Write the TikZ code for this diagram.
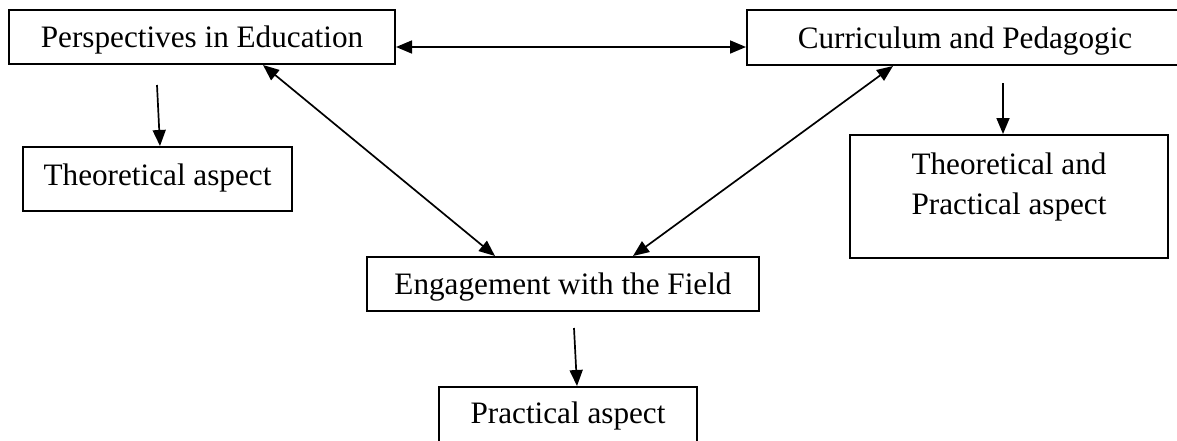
\documentclass[tikz,border=0pt]{standalone}
\usepackage{fontspec}
\setmainfont{Liberation Serif}
\usetikzlibrary{arrows.meta,calc}
\begin{document}
\begin{tikzpicture}[x=1pt,y=1pt,
  txt/.style={font=\fontsize{31.2pt}{40pt}\selectfont},
  box/.style={draw=black, line width=2pt, inner sep=0pt, txt, text height=21pt, text depth=0pt},
  conn/.style={line width=1.7pt, -{Triangle[length=16pt,width=13pt]}},
  biconn/.style={line width=1.7pt, {Triangle[length=16pt,width=13pt]}-{Triangle[length=16pt,width=13pt]}}]
\clip (0,0) rectangle (1177,-440);
\fill[white] (0,0) rectangle (1177,-440);
% nodes
\node[box, minimum width=386pt, minimum height=54pt] (persp) at (202,-37) {Perspectives in Education};
\node[box, minimum width=436pt, minimum height=55pt] (curr) at (965,-37.5) {Curriculum and Pedagogic};
\node[box, minimum width=269pt, minimum height=64pt, text depth=9pt] (theo) at (157.5,-179) {Theoretical aspect};
\node[box, minimum width=318pt, minimum height=123pt] (tp) at (1009,-196.5) {};
\node[align=center, inner sep=0pt, txt] (tptext) at (1009,-187) {Theoretical and\\Practical aspect};
\node[box, minimum width=392pt, minimum height=54pt] (eng) at (563,-284) {Engagement with the Field};
\node[box, minimum width=258pt, minimum height=62pt, text depth=10pt] (prac) at (568,-418) {Practical aspect};
% free ends
\coordinate (a1) at (157,-85);
\coordinate (a2) at (1003,-83);
\coordinate (a3) at (574,-328);
% connectors
\draw[biconn] ([yshift=-10pt]persp.east) -- ([yshift=-9.5pt]curr.west);
\draw[biconn] ([xshift=61pt]persp.south) -- ([xshift=-68pt]eng.north);
\draw[biconn] ([xshift=-72pt]curr.south) -- ([xshift=70pt]eng.north);
\draw[conn] (a1) -- ([xshift=2.5pt]theo.north);
\draw[conn] (a2) -- ([xshift=-6pt]tp.north);
\draw[conn] (a3) -- ([xshift=9pt]prac.north);
\end{tikzpicture}
\end{document}
